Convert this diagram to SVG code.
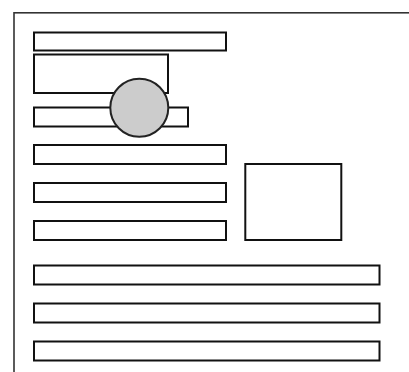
<svg xmlns="http://www.w3.org/2000/svg" width="409" height="372" viewBox="0 0 409 372">
<style>
.frame{fill:none;stroke:#333;stroke-width:1.6}
.box{fill:#fff;stroke:#111;stroke-width:2}
.circ{fill:#ccc;stroke:#222;stroke-width:2}
</style>
<rect width="409" height="372" fill="#fff"/>
<g id="frame"><rect class="frame" x="14" y="12.8" width="420" height="380"/></g>
<g id="bar1"><rect class="box" x="34" y="32.5" width="192" height="18"/></g>
<g id="box2"><rect class="box" x="34" y="54.5" width="134" height="38.5"/></g>
<g id="bar3"><rect class="box" x="34" y="107.5" width="154" height="19"/></g>
<g id="circle"><circle class="circ" cx="139.3" cy="107.8" r="29"/></g>
<g id="bar4"><rect class="box" x="34" y="145" width="192" height="19"/></g>
<g id="bar5"><rect class="box" x="34" y="183" width="192" height="19"/></g>
<g id="bar6"><rect class="box" x="34" y="221" width="192" height="19"/></g>
<g id="square"><rect class="box" x="245.3" y="164" width="96" height="76"/></g>
<g id="bar7"><rect class="box" x="34" y="265.5" width="345.5" height="19"/></g>
<g id="bar8"><rect class="box" x="34" y="303.5" width="345.5" height="19"/></g>
<g id="bar9"><rect class="box" x="34" y="341.5" width="345.5" height="19"/></g>
<g id="connectors"></g>
</svg>
